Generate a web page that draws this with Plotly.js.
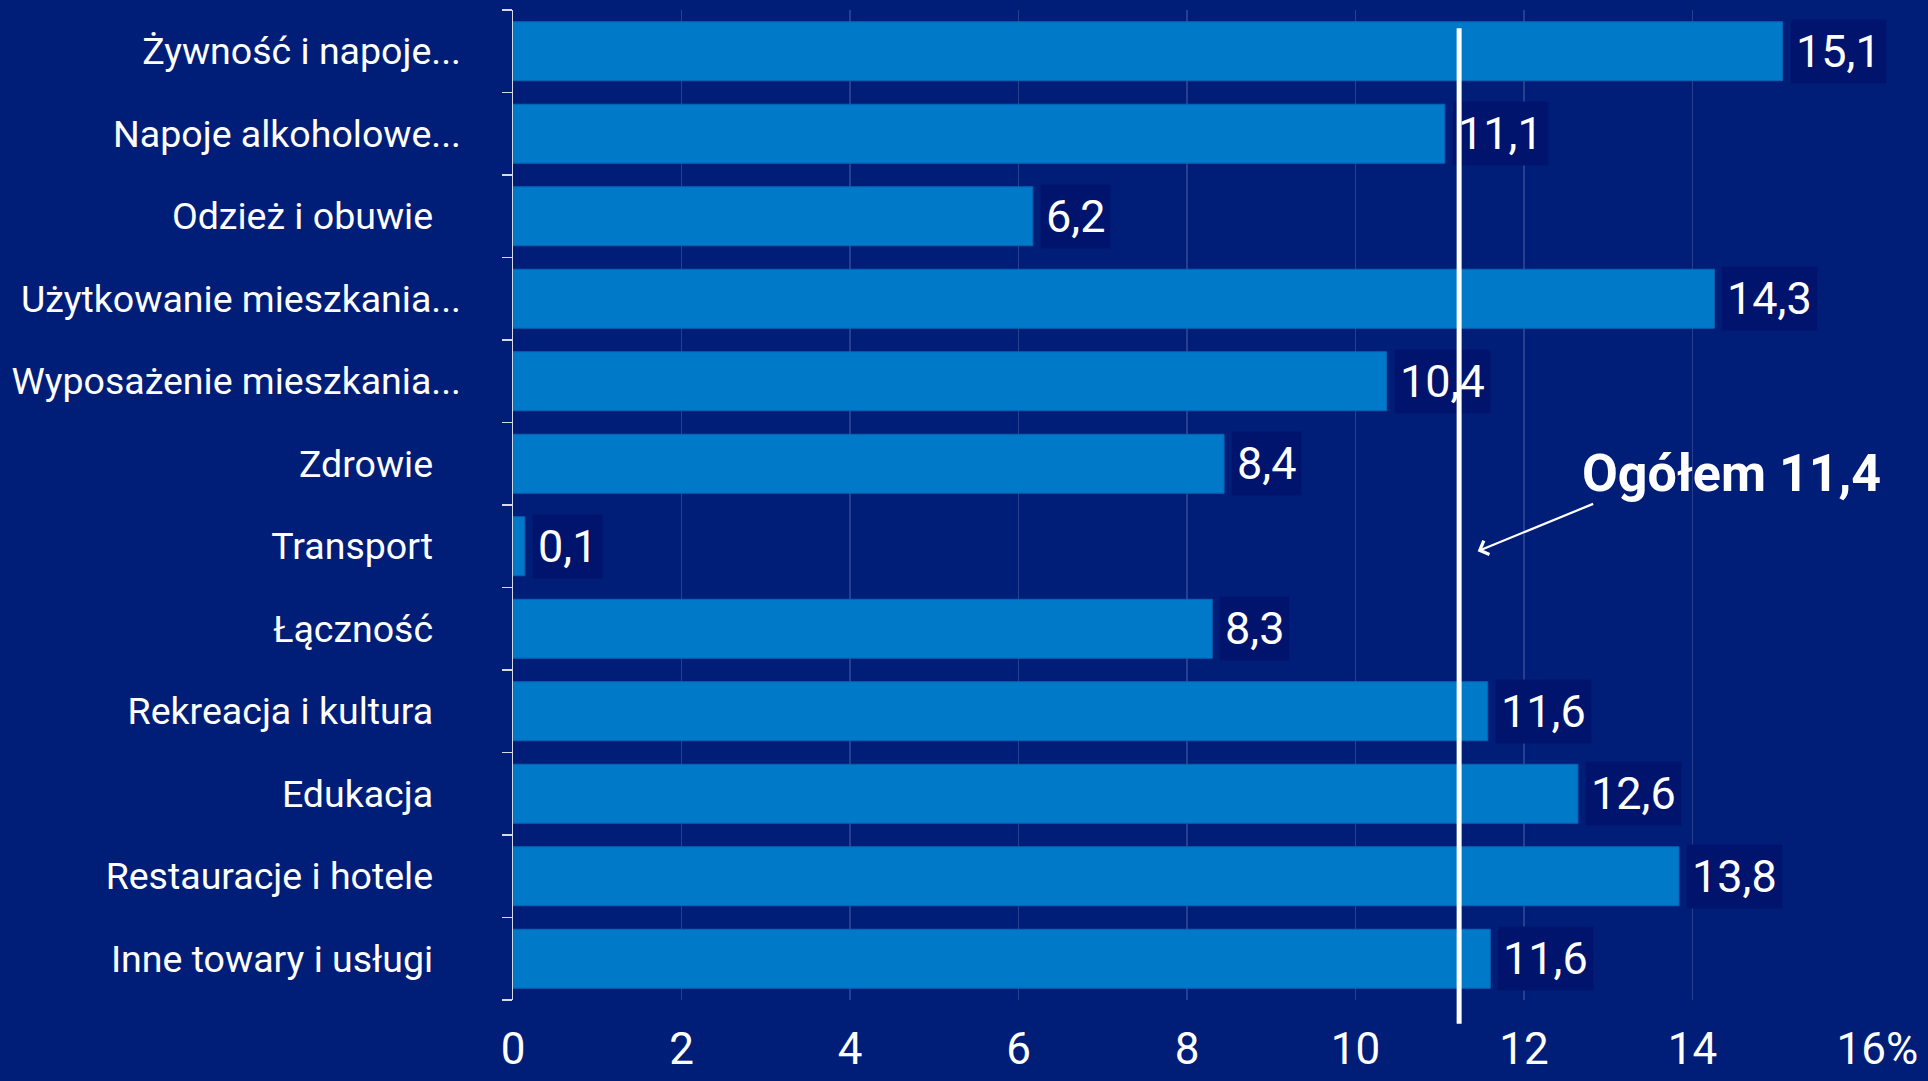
<!DOCTYPE html>
<html>
<head>
<meta charset="utf-8">
<script src="https://cdn.plot.ly/plotly-3.0.1.min.js"></script>
<style>
  html, body { margin: 0; padding: 0; background: #001e78; }
  #chart { width: 1928px; height: 1081px; }
</style>
</head>
<body>
<div id="chart"></div>
<script>
// ---- data ----
const categories = [
  "Żywność i napoje...",
  "Napoje alkoholowe...",
  "Odzież i obuwie",
  "Użytkowanie mieszkania...",
  "Wyposażenie mieszkania...",
  "Zdrowie",
  "Transport",
  "Łączność",
  "Rekreacja i kultura",
  "Edukacja",
  "Restauracje i hotele",
  "Inne towary i usługi"
];
// bar lengths as measured in the picture
const values = [15.07, 11.06, 6.17, 14.26, 10.37, 8.44, 0.14, 8.3, 11.57, 12.64, 13.84, 11.6];
// value labels as printed in the picture
const valueLabels = ["15,1", "11,1", "6,2", "14,3", "10,4", "8,4", "0,1", "8,3", "11,6", "12,6", "13,8", "11,6"];
const totalLabel = "Ogółem 11,4";     // overall value label
const totalLinePosition = 11.23;      // where the white reference line sits in the picture
const xTickValues = [0, 2, 4, 6, 8, 10, 12, 14, 16];
const xTickLabels = ["0", "2", "4", "6", "8", "10", "12", "14", "16%"];

// ---- helpers ----
const NB = "\u00a0";
// labels without ellipsis sit a little further from the axis in the original
const tickText = categories.map(c => c.endsWith("...") ? c : c + NB + NB + NB);
// keep the number of the last tick centred on its gridline, "%" hanging to the right
const xTickText = xTickLabels.map(t => t.endsWith("%") ? NB + NB + NB + t : t);

const BG = "#001e78";
const BAR = "#0079c9";
const BOX = "#00146e";
const FONT = "Roboto, 'Noto Sans', sans-serif";

const trace = {
  type: "bar",
  orientation: "h",
  x: values,
  y: categories,
  marker: { color: BAR, line: { color: "#0a63b4", width: 1 } },
  hoverinfo: "none"
};

const annotations = values.map((v, i) => ({
  x: v, y: categories[i], xref: "x", yref: "y",
  text: valueLabels[i],
  showarrow: false,
  xanchor: "left", yanchor: "middle",
  xshift: 7,
  bgcolor: BOX,
  borderpad: 5,
  font: { family: FONT, size: 45, color: "#ffffff" }
}));

// vertical white reference line (drawn as an arrow-less annotation so it sits above labels)
annotations.push({
  x: totalLinePosition, xref: "x",
  y: -0.024, yref: "y domain",
  ax: totalLinePosition, axref: "x",
  ay: 0.983, ayref: "y domain",
  text: "",
  showarrow: true, arrowhead: 0, arrowwidth: 5, arrowcolor: "#ffffff",
  standoff: 0, startstandoff: 0
});

// "Ogółem" label
annotations.push({
  x: 12.66, y: "Zdrowie", xref: "x", yref: "y",
  yshift: -10,
  text: "<b>" + totalLabel + "</b>",
  showarrow: false, xanchor: "left", yanchor: "middle",
  font: { family: FONT, size: 52, color: "#ffffff" }
});

// pointer arrow
annotations.push({
  x: 11.45, y: "Transport", xref: "x", yref: "y",
  yshift: -5,
  ax: 117, ay: -48, axref: "pixel", ayref: "pixel",
  text: "",
  showarrow: true, arrowhead: 4, arrowsize: 1.3, arrowwidth: 2.2, arrowcolor: "#ffffff",
  standoff: 0
});

const layout = {
  width: 1928, height: 1081,
  paper_bgcolor: BG, plot_bgcolor: BG,
  margin: { l: 513, r: 67, t: 10, b: 81 },
  showlegend: false,
  bargap: 0.285,
  font: { family: FONT, color: "#ffffff" },
  xaxis: {
    range: [0, 16],
    tickvals: xTickValues, ticktext: xTickText,
    showgrid: true, gridcolor: "#283f8e", gridwidth: 1.2,
    zeroline: false, showline: false, ticks: "",
    ticklabelstandoff: 19,
    tickfont: { family: FONT, size: 44, color: "#ffffff" },
    fixedrange: true
  },
  yaxis: {
    type: "category",
    autorange: "reversed",
    tickvals: categories, ticktext: tickText,
    showgrid: false, zeroline: false,
    showline: true, linecolor: "#d6d9e6", linewidth: 1.5,
    ticks: "outside", ticklen: 10, tickwidth: 1.5, tickcolor: "#d6d9e6",
    tickson: "boundaries",
    ticklabelstandoff: 43,
    tickfont: { family: FONT, size: 37.5, color: "#ffffff" },
    fixedrange: true
  },
  annotations: annotations
};

Plotly.newPlot("chart", [trace], layout, { displayModeBar: false, staticPlot: true });
</script>
</body>
</html>
